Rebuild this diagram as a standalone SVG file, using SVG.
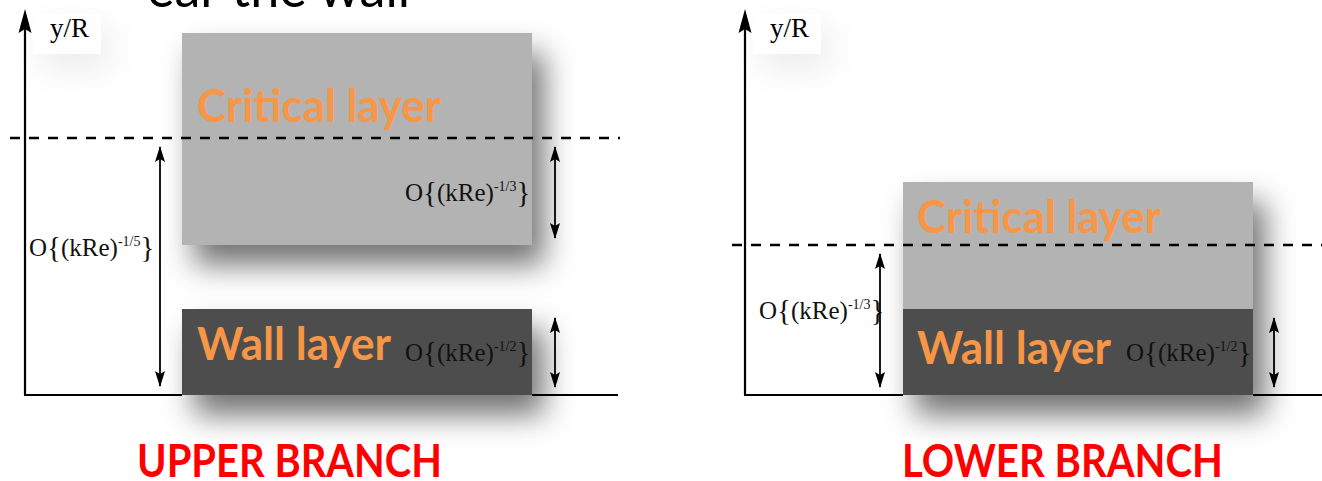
<svg xmlns="http://www.w3.org/2000/svg" width="1322" height="481" viewBox="0 0 1322 481">
  <style>
    .math { font-family: "Liberation Serif", "Times New Roman", serif; font-size: 25px; fill: #111; }
    .brace { font-size: 29px; }
    .sup { font-size: 14px; }
    .layer { font-family: Lato, "Open Sans", sans-serif; font-weight: 700; font-size: 46px; fill: #f79646; }
    .branch { font-family: Lato, "Open Sans", sans-serif; font-weight: 700; font-size: 45px; fill: #ff0000; }
    .axis { stroke: #000; stroke-width: 2.2; fill: none; }
    .axhead { fill: #000; stroke: none; }
    .dim { stroke: #000; stroke-width: 1.8; fill: none; }
    .dash { stroke: #000; stroke-width: 2.5; stroke-dasharray: 10 9; fill: none; }
    .crit { fill: #b3b3b3; }
    .wall { fill: #4d4d4d; }
    .yr { font-family: "Liberation Serif", "Times New Roman", serif; font-size: 27px; fill: #000; }
  </style>
  <defs>
    <filter id="shadow" x="-30%" y="-30%" width="170%" height="200%">
      <feDropShadow dx="12" dy="20" stdDeviation="15" flood-color="#000" flood-opacity="0.55"/>
    </filter>
    <filter id="softshadow" x="-80%" y="-80%" width="300%" height="400%">
      <feDropShadow dx="8" dy="14" stdDeviation="16" flood-color="#000" flood-opacity="0.08"/>
    </filter>
    <marker id="ah" viewBox="0 0 16 10" refX="15" refY="5" markerWidth="16" markerHeight="10" markerUnits="userSpaceOnUse" orient="auto-start-reverse">
      <path d="M0,0 L16,5 L0,10 L3,5 Z" fill="#000"/>
    </marker>
  </defs>
  <rect width="1322" height="481" fill="#fff"/>

  <text x="147" y="7" font-family="Lato, 'Open Sans', sans-serif" font-size="54" fill="#000" textLength="263" lengthAdjust="spacingAndGlyphs">ear the wall</text>

  <!-- shadow backdrops -->
  <rect x="33" y="14" width="68" height="40" fill="#fff" filter="url(#softshadow)"/>
  <rect x="753" y="14" width="68" height="40" fill="#fff" filter="url(#softshadow)"/>
  <rect x="903" y="182" width="350" height="213" fill="#b3b3b3" filter="url(#shadow)"/>

  <g id="left-ylabel">
    <rect x="33" y="14" width="68" height="40" fill="#fff"/>
    <text class="yr" x="50" y="37">y/R</text>
  </g>
  <g id="right-ylabel">
    <rect x="753" y="14" width="68" height="40" fill="#fff"/>
    <text class="yr" x="770" y="37">y/R</text>
  </g>

  <!-- Left panel nodes -->
  <g id="left-critical-layer">
    <rect class="crit" x="182" y="33" width="350" height="212" filter="url(#shadow)"/>
    <text class="layer" x="197" y="122" textLength="244" lengthAdjust="spacingAndGlyphs">Critical layer</text>
    <text class="math" x="405" y="201">O<tspan class="brace" dy="1">{</tspan><tspan dy="-1">(kRe)</tspan><tspan class="sup" dy="-10">-1/3</tspan><tspan class="brace" dy="11">}</tspan></text>
  </g>
  <g id="left-wall-layer">
    <rect class="wall" x="182" y="309" width="350" height="86" filter="url(#shadow)"/>
    <text class="layer" x="197" y="360" textLength="194" lengthAdjust="spacingAndGlyphs">Wall layer</text>
    <text class="math" x="405" y="361">O<tspan class="brace" dy="1">{</tspan><tspan dy="-1">(kRe)</tspan><tspan class="sup" dy="-10">-1/2</tspan><tspan class="brace" dy="11">}</tspan></text>
  </g>
  <g id="left-outer-label">
    <text class="math" x="29" y="256">O<tspan class="brace" dy="1">{</tspan><tspan dy="-1">(kRe)</tspan><tspan class="sup" dy="-10">-1/5</tspan><tspan class="brace" dy="11">}</tspan></text>
  </g>
  <g id="left-title">
    <text class="branch" x="137" y="477" textLength="305" lengthAdjust="spacingAndGlyphs">UPPER BRANCH</text>
  </g>

  <!-- Right panel nodes -->
  <g id="right-critical-layer">
    <rect class="crit" x="903" y="182" width="350" height="128"/>
    <text class="layer" x="917" y="233" textLength="244" lengthAdjust="spacingAndGlyphs">Critical layer</text>
  </g>
  <g id="right-wall-layer">
    <rect class="wall" x="903" y="309" width="350" height="86"/>
    <text class="layer" x="917" y="364" textLength="194" lengthAdjust="spacingAndGlyphs">Wall layer</text>
    <text class="math" x="1126" y="361">O<tspan class="brace" dy="1">{</tspan><tspan dy="-1">(kRe)</tspan><tspan class="sup" dy="-10">-1/2</tspan><tspan class="brace" dy="11">}</tspan></text>
  </g>
  <g id="right-outer-label">
    <text class="math" x="759" y="319">O<tspan class="brace" dy="1">{</tspan><tspan dy="-1">(kRe)</tspan><tspan class="sup" dy="-10">-1/3</tspan><tspan class="brace" dy="11">}</tspan></text>
  </g>
  <g id="right-title">
    <text class="branch" x="902" y="477" textLength="321" lengthAdjust="spacingAndGlyphs">LOWER BRANCH</text>
  </g>

  <!-- Connectors -->
  <g id="connectors">
    <line class="axis" x1="25" y1="395" x2="25" y2="28"/>
    <polygon class="axhead" points="25,9 31.5,33 25,29 18.5,33"/>
    <line class="axis" x1="24" y1="395" x2="182" y2="395"/>
    <line class="axis" x1="532" y1="395" x2="618" y2="395"/>
    <line class="dash" x1="10" y1="138" x2="620" y2="138"/>
    <line class="dim" x1="160" y1="147" x2="160" y2="386" marker-start="url(#ah)" marker-end="url(#ah)"/>
    <line class="dim" x1="555" y1="147" x2="555" y2="238" marker-start="url(#ah)" marker-end="url(#ah)"/>
    <line class="dim" x1="555" y1="318" x2="555" y2="387" marker-start="url(#ah)" marker-end="url(#ah)"/>
    <line class="axis" x1="745" y1="395" x2="745" y2="28"/>
    <polygon class="axhead" points="745,9 751.5,33 745,29 738.5,33"/>
    <line class="axis" x1="744" y1="395" x2="903" y2="395"/>
    <line class="axis" x1="1253" y1="395" x2="1322" y2="395"/>
    <line class="dash" x1="732" y1="245" x2="1322" y2="245"/>
    <line class="dim" x1="880" y1="254" x2="880" y2="387" marker-start="url(#ah)" marker-end="url(#ah)"/>
    <line class="dim" x1="1274" y1="318" x2="1274" y2="387" marker-start="url(#ah)" marker-end="url(#ah)"/>
  </g>
</svg>
